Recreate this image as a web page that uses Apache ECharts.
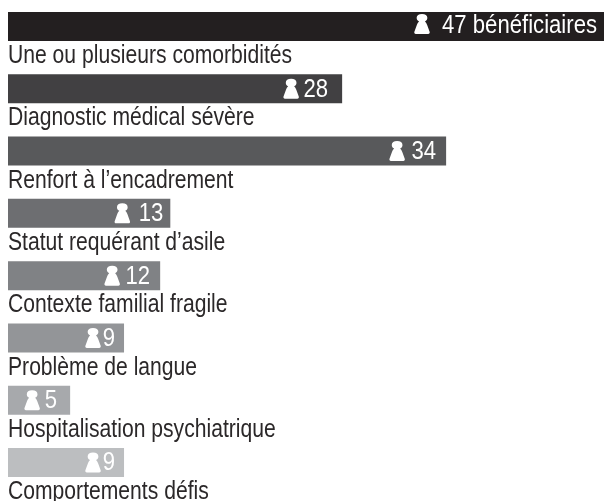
<!DOCTYPE html>
<html><head><meta charset="utf-8">
<style>html,body{margin:0;padding:0;background:#fff}#c{width:604px;height:501px}</style>
<script src="https://cdn.jsdelivr.net/npm/echarts@6/dist/echarts.min.js"></script>
</head><body><div id="c"></div>
<script>
const categories = ['Une ou plusieurs comorbidités','Diagnostic médical sévère','Renfort à l’encadrement','Statut requérant d’asile','Contexte familial fragile','Problème de langue','Hospitalisation psychiatrique','Comportements défis'];
// printed counts
const counts = ['47 bénéficiaires','28','34','13','12','9','5','9'];
// bar lengths as drawn in the picture, in the same unit (the printed 28 is drawn a little short)
const drawnLengths = [47, 26.35, 34.55, 12.8, 12, 9.15, 4.9, 9.15];
const barColors = ['#231f20','#414042','#58595b','#6d6e71','#808285','#939598','#a7a9ac','#bcbec0'];
// distance from bar end to right edge of the printed count / centre of icon
const textInset = [7, 14, 10, 7, 10, 9, 13, 9];
const iconInset = [182, 51, 49, 48, 48, 31, 38, 31];

const FONT = '"Liberation Sans", Arial, sans-serif';
const person = 'path://M8 0C4.6 0 2.6 1.5 2.6 3.9C2.6 5.6 3.5 6.8 5 7.5C4 8.3 3.4 9.4 2.8 11L0.3 17.8C-0.1 19 0.5 20 1.8 20L14.2 20C15.5 20 16.1 19 15.7 17.8L13.2 11C12.6 9.4 12 8.3 11 7.5C12.5 6.8 13.4 5.6 13.4 3.9C13.4 1.5 11.4 0 8 0Z';

const chart = echarts.init(document.getElementById('c'), null, {renderer:'canvas'});
chart.setOption({
  animation:false,
  grid:{left:8, top:-4.7, width:596, height:498.4, containLabel:false, outerBoundsMode:'none'},
  xAxis:{type:'value', min:0, max:47, show:false},
  yAxis:{type:'category', data:categories, inverse:true, show:false},
  series:[
    {type:'bar', z:1, barWidth:29, silent:true,
     data:drawnLengths.map((v,i)=>({value:v, itemStyle:{color:barColors[i]}}))},
    {type:'scatter', z:5, symbol:person, symbolSize:[15.5,20], silent:true, clip:false, itemStyle:{color:'#fff',opacity:1},
     data:drawnLengths.map((v,i)=>({value:[v,categories[i]], symbolOffset:[-iconInset[i], i===0?-2.5:0]}))},
    {type:'custom', z:6, silent:true, clip:false,
     encode:{x:0,y:1},
     data:drawnLengths.map((v,i)=>[v,i]),
     renderItem:(params,api)=>{
       const i=params.dataIndex;
       const p=api.coord([api.value(0),api.value(1)]);
       return {type:'text', x:p[0]-textInset[i], y:p[1]+(i===0?0:1), scaleX:0.885, scaleY:1,
         style:{x:0,y:0,text:counts[i],fill:'#fff',font:'25px '+FONT,align:'right',verticalAlign:'middle'}};
     }},
    {type:'custom', z:6, silent:true, clip:false,
     encode:{x:0,y:1},
     data:categories.map((c,i)=>[0,i]),
     renderItem:(params,api)=>{
       const i=params.dataIndex;
       const p=api.coord([api.value(0),api.value(1)]);
       return {type:'text', x:p[0], y:p[1]+29.8, scaleX:0.845, scaleY:1,
         style:{x:0,y:0,text:categories[i],fill:'#2b2829',font:'25px '+FONT,align:'left',verticalAlign:'middle'}};
     }}
  ]
});
</script></body></html>
